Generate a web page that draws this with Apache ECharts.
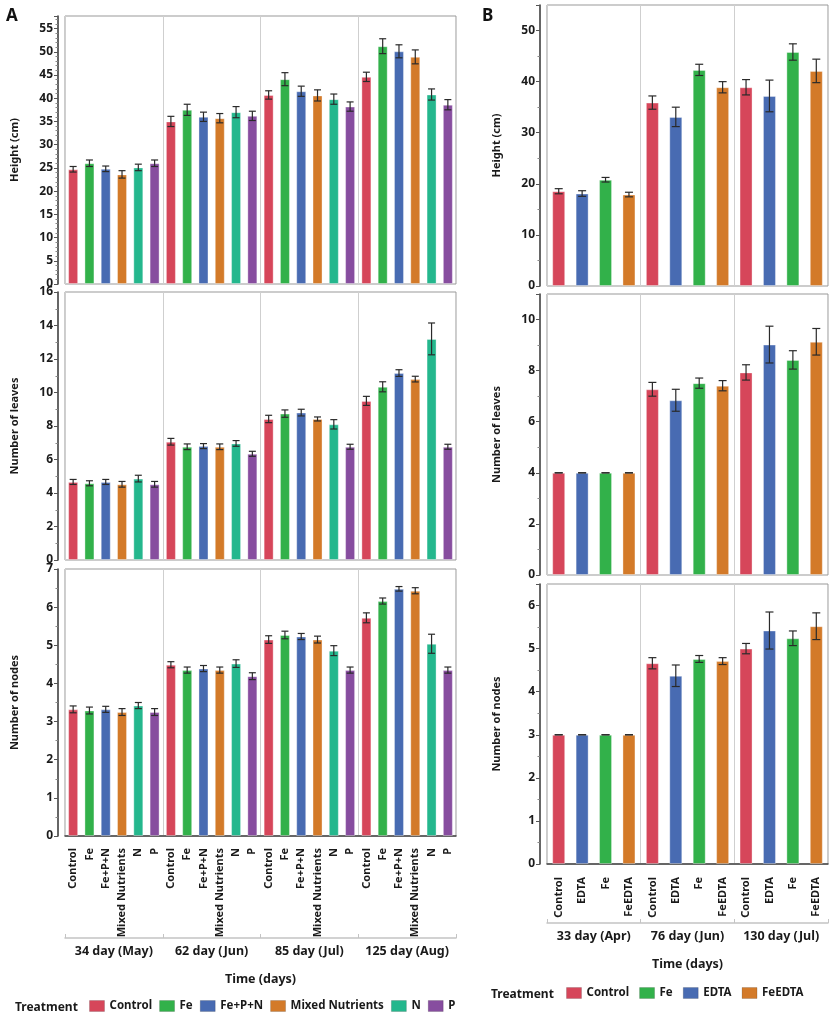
<!DOCTYPE html>
<html lang="en">
<head>
<meta charset="UTF-8">
<title>Growth charts</title>
<style>
    html, body { margin: 0; padding: 0; background: #fff; }
    #main { width: 834px; height: 1017px; }
</style>
</head>
<body>
<div id="main"></div>
<script src="https://cdn.jsdelivr.net/npm/echarts@6/dist/echarts.min.js"></script>
<script>
    // ---- data: panel A ----
    var treatA = ['Control', 'Fe', 'Fe+P+N', 'Mixed Nutrients', 'N', 'P'];
    var groupsA = ['34 day (May)', '62 day (Jun)', '85 day (Jul)', '125 day (Aug)'];
    var colorsA = ['#d6465a', '#32b14a', '#486bb2', '#d37a29', '#24b78d', '#874d9f'];

    var heightA = [
        [24.7, 26.0, 24.8, 23.6, 25.1, 26.0],
        [35.0, 37.5, 36.0, 35.7, 37.0, 36.2],
        [40.7, 44.1, 41.5, 40.6, 39.8, 38.2],
        [44.6, 51.2, 50.1, 48.9, 40.8, 38.6]
    ];
    var heightAErr = [
        [0.6, 0.7, 0.6, 0.8, 0.7, 0.7],
        [1.1, 1.2, 1.0, 1.0, 1.2, 1.0],
        [0.9, 1.4, 1.1, 1.2, 1.1, 1.0],
        [1.0, 1.6, 1.4, 1.5, 1.2, 1.1]
    ];
    var leavesA = [
        [4.66, 4.58, 4.66, 4.52, 4.86, 4.52],
        [7.06, 6.76, 6.80, 6.76, 6.96, 6.34],
        [8.42, 8.74, 8.80, 8.42, 8.10, 6.76],
        [9.50, 10.34, 11.16, 10.80, 13.20, 6.76]
    ];
    var leavesAErr = [
        [0.15, 0.15, 0.15, 0.17, 0.2, 0.17],
        [0.2, 0.17, 0.15, 0.17, 0.17, 0.15],
        [0.22, 0.22, 0.2, 0.12, 0.28, 0.15],
        [0.27, 0.3, 0.2, 0.17, 0.95, 0.15]
    ];
    var nodesA = [
        [3.32, 3.29, 3.32, 3.25, 3.42, 3.25],
        [4.49, 4.35, 4.39, 4.35, 4.52, 4.19],
        [5.15, 5.27, 5.23, 5.15, 4.86, 4.35],
        [5.72, 6.16, 6.48, 6.43, 5.04, 4.35]
    ];
    var nodesAErr = [
        [0.09, 0.09, 0.08, 0.09, 0.08, 0.09],
        [0.08, 0.08, 0.08, 0.08, 0.1, 0.09],
        [0.1, 0.1, 0.08, 0.09, 0.13, 0.08],
        [0.13, 0.08, 0.06, 0.08, 0.25, 0.08]
    ];

    // ---- data: panel B ----
    var treatB = ['Control', 'EDTA', 'Fe', 'FeEDTA'];
    var groupsB = ['33 day (Apr)', '76 day (Jun)', '130 day (Jul)'];
    var colorsB = ['#d6465a', '#486bb2', '#32b14a', '#d37a29'];
    var legendB = ['Control', 'Fe', 'EDTA', 'FeEDTA'];

    var heightB = [
        [18.55, 18.1, 20.8, 17.9],
        [35.9, 33.1, 42.3, 38.9],
        [38.9, 37.2, 45.8, 42.1]
    ];
    var heightBErr = [
        [0.5, 0.55, 0.45, 0.45],
        [1.3, 1.9, 1.1, 1.1],
        [1.5, 3.1, 1.6, 2.3]
    ];
    var leavesB = [
        [4, 4, 4, 4],
        [7.27, 6.84, 7.51, 7.41],
        [7.93, 9.02, 8.42, 9.13]
    ];
    var leavesBErr = [
        [0, 0, 0, 0],
        [0.27, 0.43, 0.2, 0.2],
        [0.3, 0.72, 0.36, 0.52]
    ];
    var nodesB = [
        [3, 3, 3, 3],
        [4.66, 4.37, 4.76, 4.71],
        [5.0, 5.42, 5.24, 5.52]
    ];
    var nodesBErr = [
        [0, 0, 0, 0],
        [0.13, 0.25, 0.08, 0.08],
        [0.12, 0.43, 0.17, 0.31]
    ];

    var FONT = '"Noto Sans", "DejaVu Sans", sans-serif';
    var option = {
        animation: false,
        backgroundColor: '#fff',
        textStyle: { fontFamily: FONT },
        grid: [], xAxis: [], yAxis: [], series: [], legend: [], graphic: []
    };

    function addPanel(p) {
        var gi = option.grid.length;
        var nT = p.treat.length;
        option.grid.push({
            left: p.left, top: p.top, width: p.width, height: p.height,
            show: true, borderColor: '#999', borderWidth: 1, backgroundColor: 'transparent',
            outerBoundsMode: 'none', containLabel: false
        });

        var cats = [];
        p.groups.forEach(function (g, gIdx) {
            p.treat.forEach(function (t) { cats.push(gIdx + '|' + t); });
        });

        var xi = option.xAxis.length;
        option.xAxis.push({
            type: 'category', gridIndex: gi, data: cats, position: 'bottom',
            offset: p.axisOff || 0,
            axisLine: { show: !!p.showX, lineStyle: { color: '#444', width: 1.5 } },
            axisTick: { show: false },
            splitLine: { show: false },
            axisLabel: {
                show: !!p.showX, interval: 0, rotate: 90, margin: 4,
                fontSize: 11, fontWeight: 'bold', color: '#1a1a1a', fontFamily: FONT,
                formatter: function (v) { return v.split('|')[1]; }
            }
        });
        option.xAxis.push({
            type: 'category', gridIndex: gi, data: p.groups, position: 'bottom',
            offset: p.groupOff || 0,
            axisLine: { show: !!p.showX, lineStyle: { color: '#c4c4c4', width: 1.5 } },
            axisTick: { show: !!p.showX, inside: true, length: 4, interval: 0, lineStyle: { color: '#c4c4c4' } },
            splitLine: { show: true, interval: 0, lineStyle: { color: '#cfcfcf', width: 1 } },
            axisLabel: {
                show: !!p.showX, interval: 0, margin: 7,
                fontSize: 12.5, fontWeight: 'bold', color: '#1a1a1a', fontFamily: FONT
            },
            name: p.showX ? 'Time (days)' : '', nameLocation: 'middle', nameGap: 35,
            nameTextStyle: { fontSize: 12.5, fontWeight: 'bold', color: '#1a1a1a', fontFamily: FONT }
        });

        option.yAxis.push({
            type: 'value', gridIndex: gi, min: 0, max: p.max, interval: p.interval,
            position: 'left', offset: 7,
            axisLine: { show: true, lineStyle: { color: '#333', width: 1.5 } },
            axisTick: { show: true, length: 4, lineStyle: { color: '#555' } },
            minorTick: { show: true, splitNumber: p.minor, length: 2.5, lineStyle: { color: '#888' } },
            splitLine: { show: false },
            axisLabel: {
                margin: 5, fontSize: 12, fontWeight: 'bold', color: '#1a1a1a', fontFamily: FONT,
                showMaxLabel: p.showMax
            },
            name: p.yName, nameLocation: 'middle', nameGap: 38,
            nameTextStyle: { fontSize: 11, fontWeight: 'bold', color: '#1a1a1a', fontFamily: FONT }
        });

        p.treat.forEach(function (t, ti) {
            var d = cats.map(function (c, ci) {
                return ci % nT === ti ? p.mean[Math.floor(ci / nT)][ti] : '-';
            });
            option.series.push({
                type: 'bar', name: t, xAxisIndex: xi, yAxisIndex: gi, data: d,
                barWidth: p.barW, barGap: '-100%',
                itemStyle: { color: p.colors[ti], borderColor: 'rgba(255,255,255,0.35)', borderWidth: 1 }
            });
        });

        var errData = [];
        cats.forEach(function (c, ci) {
            var g = Math.floor(ci / nT), t = ci % nT;
            var m = p.mean[g][t], e = p.err[g][t];
            errData.push([ci, m - e, m + e]);
        });
        var capW = p.capW;
        option.series.push({
            type: 'custom', xAxisIndex: xi, yAxisIndex: gi, data: errData, z: 10,
            encode: { x: 0, y: [1, 2] }, silent: true,
            renderItem: function (params, api) {
                var lo = api.coord([api.value(0), api.value(1)]);
                var hi = api.coord([api.value(0), api.value(2)]);
                var st = { stroke: '#2a2a2a', lineWidth: 1.2 };
                var w = capW / 2;
                return {
                    type: 'group', children: [
                        { type: 'line', shape: { x1: hi[0], y1: hi[1], x2: lo[0], y2: lo[1] }, style: st },
                        { type: 'line', shape: { x1: hi[0] - w, y1: hi[1], x2: hi[0] + w, y2: hi[1] }, style: st },
                        { type: 'line', shape: { x1: lo[0] - w, y1: lo[1], x2: lo[0] + w, y2: lo[1] }, style: st }
                    ]
                };
            }
        });
    }

    // panel A
    var aBase = { treat: treatA, groups: groupsA, colors: colorsA, left: 65, width: 391, barW: 10, capW: 7 };
    addPanel(Object.assign({}, aBase, { top: 16, height: 268, mean: heightA, err: heightAErr,
        yName: 'Height (cm)', max: 57.7, interval: 5, minor: 5, showMax: false }));
    addPanel(Object.assign({}, aBase, { top: 292, height: 268, mean: leavesA, err: leavesAErr,
        yName: 'Number of leaves', max: 16, interval: 2, minor: 2, showMax: true }));
    addPanel(Object.assign({}, aBase, { top: 569, height: 267, mean: nodesA, err: nodesAErr,
        yName: 'Number of nodes', max: 7, interval: 1, minor: 2, showMax: true,
        showX: true, axisOff: 8, groupOff: 102 }));

    // panel B
    var bBase = { treat: treatB, groups: groupsB, colors: colorsB, left: 547, width: 281, barW: 13, capW: 8 };
    addPanel(Object.assign({}, bBase, { top: 5, height: 281, mean: heightB, err: heightBErr,
        yName: 'Height (cm)', max: 55, interval: 10, minor: 2, showMax: false }));
    addPanel(Object.assign({}, bBase, { top: 294, height: 281, mean: leavesB, err: leavesBErr,
        yName: 'Number of leaves', max: 11, interval: 2, minor: 2, showMax: false }));
    addPanel(Object.assign({}, bBase, { top: 584, height: 280, mean: nodesB, err: nodesBErr,
        yName: 'Number of nodes', max: 6.5, interval: 1, minor: 2, showMax: false,
        showX: true, axisOff: 9, groupOff: 59 }));

    var legendText = { fontSize: 11.5, fontWeight: 'bold', color: '#1a1a1a', fontFamily: FONT };
    option.legend.push({
        data: treatA, left: 89, top: 1000, icon: 'rect', itemWidth: 15, itemHeight: 11,
        itemGap: 7, textStyle: legendText, padding: 0, selectedMode: false,
        itemStyle: { borderColor: 'rgba(0,0,0,0.15)', borderWidth: 1 }
    });
    option.legend.push({
        data: legendB, left: 566, top: 987, icon: 'rect', itemWidth: 15, itemHeight: 11,
        itemGap: 10, textStyle: legendText, padding: 0, selectedMode: false,
        itemStyle: { borderColor: 'rgba(0,0,0,0.15)', borderWidth: 1 }
    });

    option.graphic = [
        { type: 'text', left: 6, top: 8, style: { text: 'A', font: 'bold 17px ' + FONT, fill: '#111' } },
        { type: 'text', left: 482, top: 8, style: { text: 'B', font: 'bold 17px ' + FONT, fill: '#111' } },
        { type: 'text', left: 15, top: 1002, style: { text: 'Treatment', font: 'bold 12px ' + FONT, fill: '#1a1a1a' } },
        { type: 'text', left: 491, top: 989, style: { text: 'Treatment', font: 'bold 12px ' + FONT, fill: '#1a1a1a' } }
    ];

    var myChart = echarts.init(document.getElementById('main'));
    myChart.setOption(option);
</script>
</body>
</html>
